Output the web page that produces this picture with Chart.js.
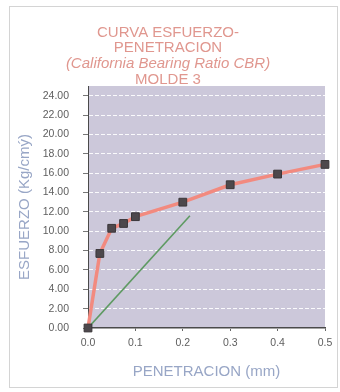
<!DOCTYPE html>
<html>
<head>
<meta charset="utf-8">
<script src="https://cdn.jsdelivr.net/npm/chart.js@4.4.0/dist/chart.umd.min.js"></script>
<style>
  html, body { margin: 0; padding: 0; background: #fff; }
  #wrap { width: 340px; height: 392px; }
</style>
</head>
<body>
<div id="wrap"><canvas id="cbrChart" width="340" height="392"></canvas></div>
<script>
// datos
const penetracion = [0, 0.025, 0.05, 0.075, 0.1, 0.2, 0.3, 0.4, 0.5];
const esfuerzo = [0, 7.7, 10.3, 10.8, 11.5, 13.0, 14.8, 15.9, 16.9];
const rectaX = [0, 0.215];
const rectaY = [0, 11.6];
const yTicks = [0, 2, 4, 6, 8, 10, 12, 14, 16, 18, 20, 22, 24];
const xTicks = [0, 0.1, 0.2, 0.3, 0.4, 0.5];
const tituloLineas = ['CURVA ESFUERZO-', 'PENETRACION', '(California Bearing Ratio CBR)', 'MOLDE 3'];

const FONT = '"Liberation Sans", Arial, sans-serif';

// fondo, marco y titulo
const decoPlugin = {
    id: 'deco',
    beforeDraw(chart) {
        const { ctx, chartArea } = chart;
        ctx.save();
        ctx.fillStyle = '#ffffff';
        ctx.fillRect(0, 0, chart.width, chart.height);
        ctx.strokeStyle = '#d4d4d4';
        ctx.lineWidth = 1;
        ctx.strokeRect(9.5, 6.5, 328, 381);
        ctx.fillStyle = '#ccc8da';
        ctx.fillRect(chartArea.left, chartArea.top, chartArea.right - chartArea.left, chartArea.bottom - chartArea.top);
        ctx.restore();
    },
    afterDraw(chart) {
        const { ctx } = chart;
        ctx.save();
        ctx.fillStyle = '#e0978f';
        ctx.textAlign = 'center';
        ctx.textBaseline = 'middle';
        const ys = [33, 48, 64, 80];
        tituloLineas.forEach((t, i) => {
            ctx.font = (i === 2 ? 'italic ' : '') + '15px ' + FONT;
            ctx.fillText(t, 168, ys[i]);
        });
        ctx.restore();
    }
};

const ctx = document.getElementById('cbrChart').getContext('2d');
new Chart(ctx, {
    type: 'line',
    data: {
        datasets: [
            {
                label: 'Curva',
                data: penetracion.map((x, i) => ({ x: x, y: esfuerzo[i] })),
                borderColor: '#f28a7f',
                borderWidth: 3.5,
                pointStyle: 'rect',
                pointRadius: 5.5,
                pointBackgroundColor: '#4d484c',
                pointBorderColor: '#3a3639',
                pointBorderWidth: 1,
                tension: 0,
                clip: false
            },
            {
                label: 'Recta',
                data: rectaX.map((x, i) => ({ x: x, y: rectaY[i] })),
                borderColor: '#5e9a62',
                borderWidth: 1.6,
                pointRadius: 0,
                tension: 0
            }
        ]
    },
    options: {
        responsive: false,
        animation: false,
        layout: { padding: { left: 12, right: 15, top: 86, bottom: 5 } },
        plugins: {
            legend: { display: false },
            tooltip: { enabled: false }
        },
        scales: {
            x: {
                type: 'linear',
                min: 0,
                max: 0.5,
                afterBuildTicks: (scale) => { scale.ticks = xTicks.map(v => ({ value: v })); },
                afterFit: (scale) => { scale.height = 59; },
                ticks: {
                    color: '#5e5e5e',
                    font: { family: FONT, size: 10.5 },
                    padding: 6,
                    maxRotation: 0,
                    callback: (v) => Number(v).toFixed(1)
                },
                grid: { drawOnChartArea: false, tickLength: 3, tickColor: '#666' },
                border: { display: true, color: '#4a4a4a', width: 1.5 },
                title: {
                    display: true,
                    text: 'PENETRACION (mm)',
                    color: '#98a6c6',
                    font: { family: FONT, size: 15 },
                    padding: { top: 10, bottom: 6 }
                }
            },
            y: {
                min: 0,
                max: 25,
                afterBuildTicks: (scale) => { scale.ticks = yTicks.map(v => ({ value: v })); },
                afterFit: (scale) => { scale.width = 76; },
                ticks: {
                    color: '#5e5e5e',
                    font: { family: FONT, size: 10.5 },
                    padding: 14,
                    callback: (v) => Number(v).toFixed(2)
                },
                grid: { color: 'rgba(255,255,255,0.9)', lineWidth: 1, tickLength: 5, tickColor: '#777' },
                border: { display: true, color: '#4a4a4a', width: 1, dash: [4, 2] },
                title: {
                    display: true,
                    text: 'ESFUERZO (Kg/cmý)',
                    color: '#98a6c6',
                    font: { family: FONT, size: 15 },
                    padding: { top: 4, bottom: 4 }
                }
            }
        }
    },
    plugins: [decoPlugin]
});
</script>
</body>
</html>
